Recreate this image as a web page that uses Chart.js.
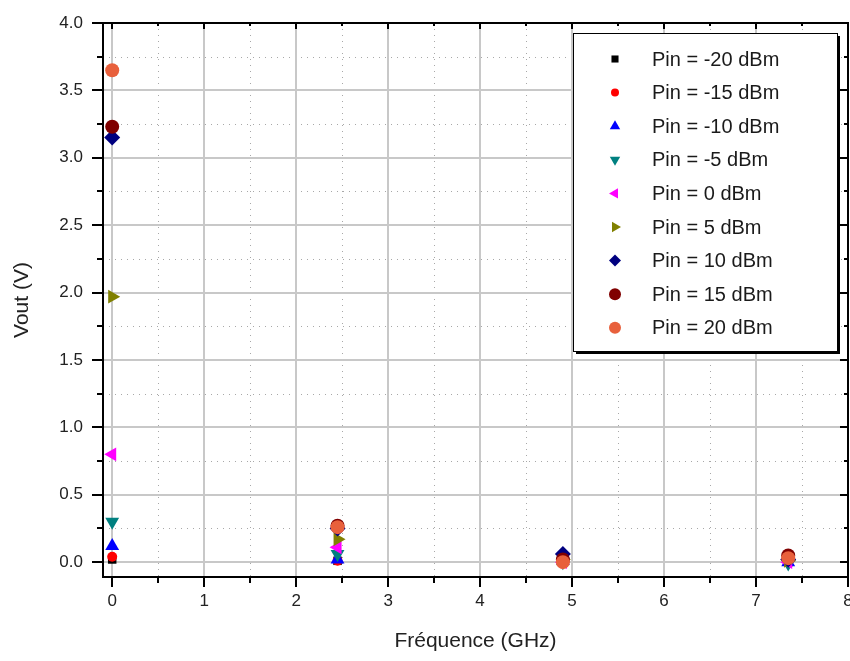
<!DOCTYPE html>
<html>
<head>
<meta charset="utf-8">
<script src="https://cdn.jsdelivr.net/npm/chart.js@4.4.0/dist/chart.umd.min.js"></script>
<style>
  html, body { margin: 0; padding: 0; background: #fff; overflow: hidden; }
  #wrap { width: 860px; height: 661px; }
</style>
</head>
<body>
<div id="wrap"><canvas id="chart"></canvas></div>
<script>
// frequencies (GHz) where Vout was measured
var freq = [0, 2.45, 4.9, 7.35];

// Vout (V) for each input power
var vPinM20 = [0.02, 0.01, 0.00, 0.00];
var vPinM15 = [0.04, 0.01, 0.00, 0.00];
var vPinM10 = [0.12, 0.02, 0.01, 0.00];
var vPinM5  = [0.30, 0.06, 0.00, -0.01];
var vPin0   = [0.80, 0.11, 0.00, 0.00];
var vPin5   = [1.97, 0.17, 0.02, 0.01];
var vPin10  = [3.15, 0.25, 0.06, 0.02];
var vPin15  = [3.23, 0.27, 0.02, 0.05];
var vPin20  = [3.65, 0.26, 0.00, 0.03];

var seriesNames = ['Pin = -20 dBm', 'Pin = -15 dBm', 'Pin = -10 dBm', 'Pin = -5 dBm',
  'Pin = 0 dBm', 'Pin = 5 dBm', 'Pin = 10 dBm', 'Pin = 15 dBm', 'Pin = 20 dBm'];

// axis ticks
var xTicks = [0, 1, 2, 3, 4, 5, 6, 7, 8];
var xMinor = [0.5, 1.5, 2.5, 3.5, 4.5, 5.5, 6.5, 7.5];
var yTicks = [0, 0.5, 1, 1.5, 2, 2.5, 3, 3.5, 4];
var yMinor = [0.25, 0.75, 1.25, 1.75, 2.25, 2.75, 3.25, 3.75];

var styles = [
  { color: '#000000', shape: 'rect', rot: 0, r: 6 },
  { color: '#ff0000', shape: 'circle', rot: 0, r: 5 },
  { color: '#0000ff', shape: 'triangle', rot: 0, r: 8 },
  { color: '#008080', shape: 'triangle', rot: 180, r: 8 },
  { color: '#ff00ff', shape: 'triangle', rot: -90, r: 8 },
  { color: '#808000', shape: 'triangle', rot: 90, r: 8 },
  { color: '#000080', shape: 'rectRot', rot: 0, r: 8 },
  { color: '#800000', shape: 'circle', rot: 0, r: 7 },
  { color: '#e8603c', shape: 'circle', rot: 0, r: 7 }
];

var allValues = [vPinM20, vPinM15, vPinM10, vPinM5, vPin0, vPin5, vPin10, vPin15, vPin20];

var datasets = allValues.map(function(vals, i) {
  return {
    label: seriesNames[i],
    data: freq.map(function(f, j) { return { x: f, y: vals[j] }; }),
    pointStyle: styles[i].shape,
    pointRotation: styles[i].rot,
    pointRadius: styles[i].r,
    pointHoverRadius: styles[i].r,
    backgroundColor: styles[i].color,
    borderColor: styles[i].color,
    borderWidth: 0,
    showLine: false,
    clip: false,
    order: -i
  };
});

var FONT = '"Liberation Sans", Arial, sans-serif';

function dots(ctx, x1, y1, x2, y2) {
  ctx.save();
  ctx.setLineDash([1, 5]);
  ctx.strokeStyle = '#a8a8a8';
  ctx.lineWidth = 1;
  ctx.beginPath();
  ctx.moveTo(x1, y1);
  ctx.lineTo(x2, y2);
  ctx.stroke();
  ctx.restore();
}

var framePlugin = {
  id: 'frame',
  beforeDatasetsDraw: function(chart) {
    var ctx = chart.ctx, a = chart.chartArea;
    var xs = chart.scales.x, ys = chart.scales.y;
    xMinor.forEach(function(v) {
      var px = Math.round(xs.getPixelForValue(v)) + 0.5;
      dots(ctx, px, a.top, px, a.bottom);
    });
    yMinor.forEach(function(v) {
      var py = Math.round(ys.getPixelForValue(v)) + 0.5;
      dots(ctx, a.left, py, a.right, py);
    });
    ctx.save();
    ctx.strokeStyle = '#c8c8c8';
    ctx.lineWidth = 2;
    xTicks.forEach(function(v) {
      var px = Math.round(xs.getPixelForValue(v));
      ctx.beginPath(); ctx.moveTo(px, a.top); ctx.lineTo(px, a.bottom); ctx.stroke();
    });
    yTicks.forEach(function(v) {
      var py = Math.round(ys.getPixelForValue(v));
      ctx.beginPath(); ctx.moveTo(a.left, py); ctx.lineTo(a.right, py); ctx.stroke();
    });
    ctx.restore();
  },
  afterDatasetsDraw: function(chart) {
    var ctx = chart.ctx, a = chart.chartArea;
    var xs = chart.scales.x, ys = chart.scales.y;
    ctx.save();
    ctx.strokeStyle = '#000';
    ctx.lineWidth = 2;
    ctx.strokeRect(a.left, a.top, a.right - a.left, a.bottom - a.top);
    // outward ticks on bottom and left, inward on top and right
    function tick(x1, y1, x2, y2) {
      ctx.beginPath(); ctx.moveTo(x1, y1); ctx.lineTo(x2, y2); ctx.stroke();
    }
    xTicks.forEach(function(v) {
      var px = Math.round(xs.getPixelForValue(v));
      tick(px, a.bottom, px, a.bottom + 10);
      tick(px, a.top, px, a.top + 6);
    });
    xMinor.forEach(function(v) {
      var px = Math.round(xs.getPixelForValue(v));
      tick(px, a.bottom, px, a.bottom + 6);
      tick(px, a.top, px, a.top + 3);
    });
    yTicks.forEach(function(v) {
      var py = Math.round(ys.getPixelForValue(v));
      tick(a.left - 11, py, a.left, py);
      tick(a.right - 8, py, a.right, py);
    });
    yMinor.forEach(function(v) {
      var py = Math.round(ys.getPixelForValue(v));
      tick(a.left - 6, py, a.left, py);
      tick(a.right - 4, py, a.right, py);
    });
    ctx.restore();

    // legend box
    var bx = 573, by = 33, bw = 264, bh = 318;
    ctx.save();
    ctx.fillStyle = '#000';
    ctx.fillRect(bx + 3, by + 3, bw, bh);
    ctx.fillStyle = '#fff';
    ctx.fillRect(bx, by, bw, bh);
    ctx.strokeStyle = '#000';
    ctx.lineWidth = 1;
    ctx.strokeRect(bx + 0.5, by + 0.5, bw, bh);
    ctx.font = '20px ' + FONT;
    ctx.textBaseline = 'middle';
    ctx.textAlign = 'left';
    seriesNames.forEach(function(name, i) {
      var cy = by + 26 + i * 33.6;
      var st = styles[i];
      ctx.fillStyle = st.color;
      ctx.strokeStyle = st.color;
      Chart.helpers.drawPoint(ctx, {
        pointStyle: st.shape, rotation: st.rot, radius: Math.min(st.r - 1, 6), borderWidth: 0
      }, bx + 42, cy);
      ctx.fillStyle = '#1a1a1a';
      ctx.fillText(name, bx + 79, cy + 1);
    });
    ctx.restore();
  }
};

new Chart(document.getElementById('chart'), {
  type: 'scatter',
  data: { datasets: datasets },
  options: {
    responsive: true,
    maintainAspectRatio: false,
    animation: false,
    layout: { padding: { top: 23, right: 12, left: 0, bottom: 0 } },
    plugins: { legend: { display: false }, tooltip: { enabled: false } },
    scales: {
      x: {
        type: 'linear',
        min: -0.1,
        max: 8,
        grid: { display: false, drawTicks: false },
        border: { display: false },
        afterBuildTicks: function(s) { s.ticks = xTicks.map(function(v) { return { value: v }; }); },
        afterFit: function(s) {
          s.height = 84;
          s.paddingLeft = 0;
          s.paddingRight = 0;
        },
        ticks: {
          font: { family: FONT, size: 17 },
          color: '#222',
          padding: 14,
          maxRotation: 0,
          callback: function(v) { return String(v); }
        },
        title: {
          display: true,
          text: 'Fréquence (GHz)',
          font: { family: FONT, size: 21 },
          color: '#222',
          padding: { top: 0, bottom: 7 }
        }
      },
      y: {
        type: 'linear',
        min: -0.11,
        max: 4,
        grid: { display: false, drawTicks: false },
        border: { display: false },
        afterBuildTicks: function(s) { s.ticks = yTicks.map(function(v) { return { value: v }; }); },
        afterFit: function(s) {
          s.width = 103;
          s.paddingTop = 0;
          s.paddingBottom = 0;
        },
        ticks: {
          font: { family: FONT, size: 17 },
          color: '#222',
          padding: 20,
          callback: function(v) { return v.toFixed(1); }
        },
        title: {
          display: true,
          text: 'Vout (V)',
          font: { family: FONT, size: 21 },
          color: '#222',
          padding: { top: 10, bottom: 0 }
        }
      }
    }
  },
  plugins: [framePlugin]
});
</script>
</body>
</html>
